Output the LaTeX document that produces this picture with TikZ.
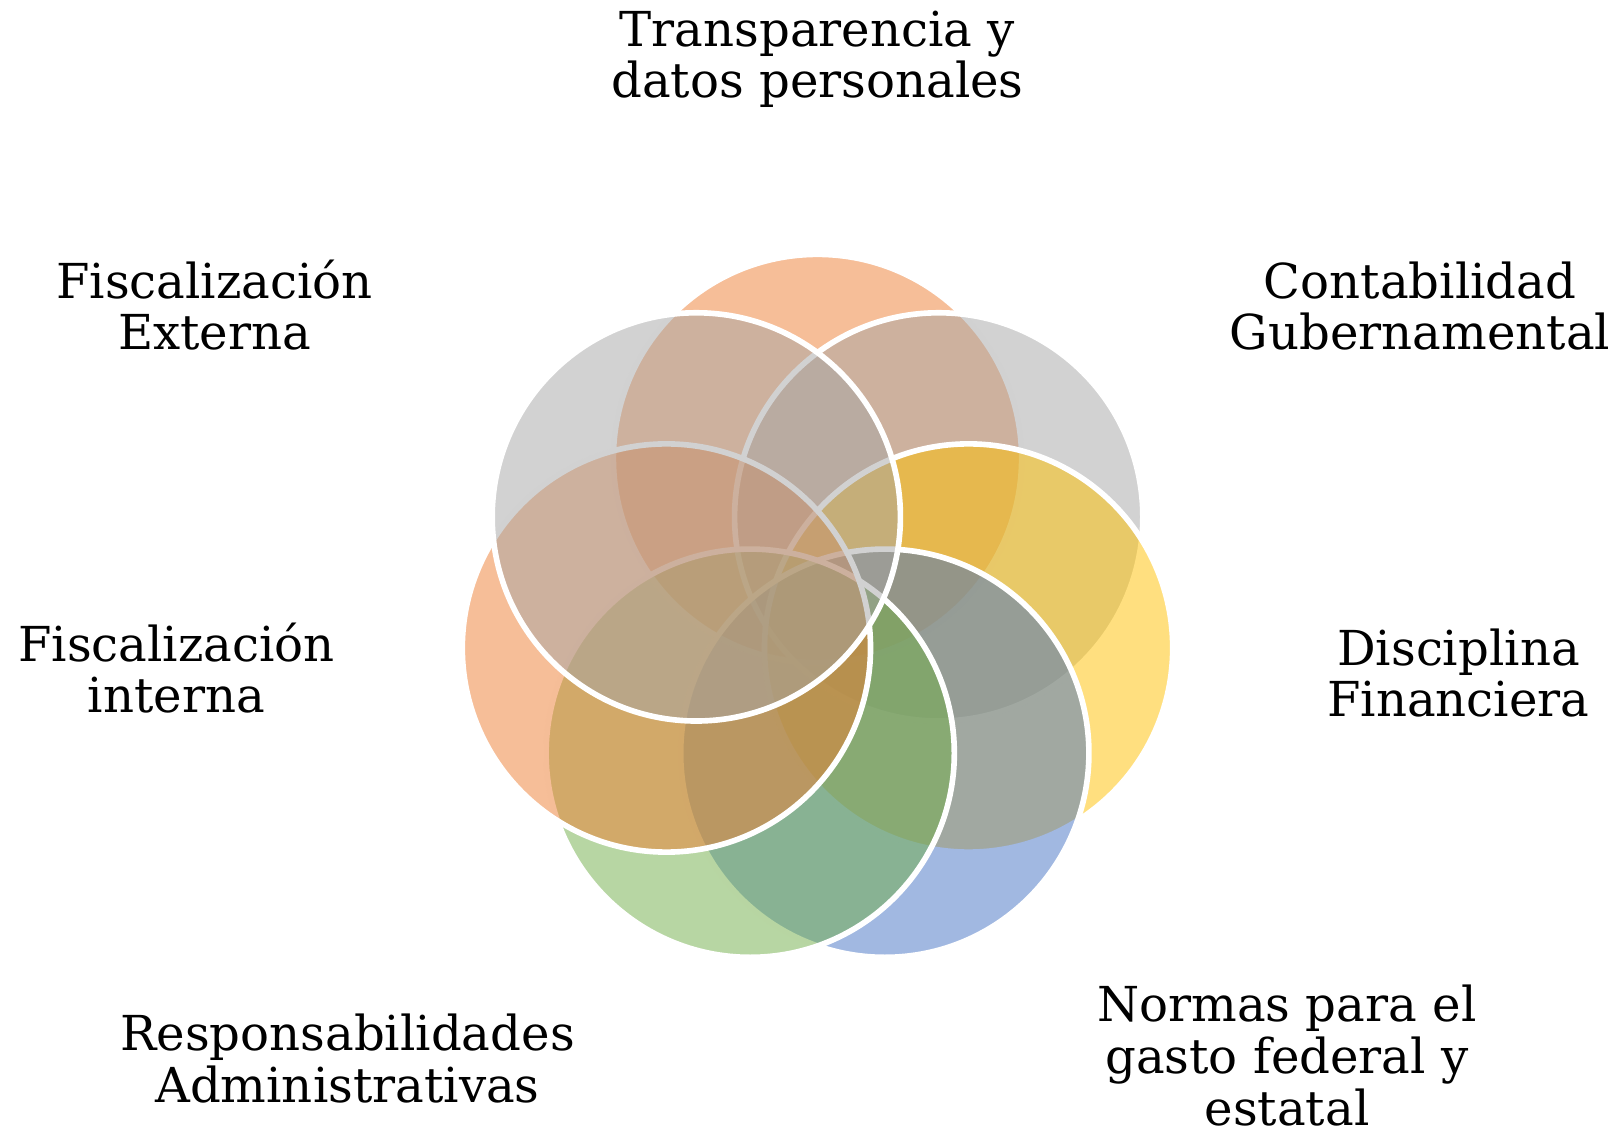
\documentclass[tikz,border=0pt]{standalone}
\usepackage{fontspec}
\setmainfont{DejaVu Serif}
\usetikzlibrary{calc}

\definecolor{accOrange}{HTML}{ED7D31}
\definecolor{accGray}{HTML}{A5A5A5}
\definecolor{accGold}{HTML}{FFC000}
\definecolor{accBlue}{HTML}{4472C4}
\definecolor{accGreen}{HTML}{70AD47}

\begin{document}
\begin{tikzpicture}[x=0.01cm, y=-0.01cm,
        petal/.style={circle, inner sep=0pt, minimum size=4.08cm, draw=white, line width=1.6pt, fill opacity=0.5},
        topic/.style={align=center, anchor=base, font=\fontsize{13.7}{14.7}\selectfont}]
        % Page frame
        \useasboundingbox (0,0) rectangle (1618,1134);

        % Ring of seven circles, clockwise from the top
        \node[petal, fill=accOrange] (ctransp) at (817.5,458.5) {};
        \node[petal, fill=accGray]   (cconta)  at (938.7,516.9) {};
        \node[petal, fill=accGold]   (cdisc)   at (968.6,648.0) {};
        \node[petal, fill=accBlue]   (cnormas) at (884.8,753.2) {};
        \node[petal, fill=accGreen]  (cresp)   at (750.2,753.2) {};
        \node[petal, fill=accOrange] (cfint)   at (666.4,648.0) {};
        \node[petal, fill=accGray]   (cfext)   at (696.3,516.9) {};

        % Topic labels (placed at the baseline of their last line)
        \node[topic] (ltransp) at (817.5,98)  {Transparencia y\\datos personales};
        \node[topic] (lconta)  at (1420,350)  {Contabilidad\\Gubernamental};
        \node[topic] (ldisc)   at (1458.5,717) {Disciplina\\Financiera};
        \node[topic] (lnormas) at (1287,1125) {Normas para el\\gasto federal y\\estatal};
        \node[topic] (lresp)   at (347.5,1102) {Responsabilidades\\Administrativas};
        \node[topic] (lfint)   at (176.5,713) {Fiscalización\\interna};
        \node[topic] (lfext)   at (214.5,350) {Fiscalización\\Externa};
\end{tikzpicture}
\end{document}
